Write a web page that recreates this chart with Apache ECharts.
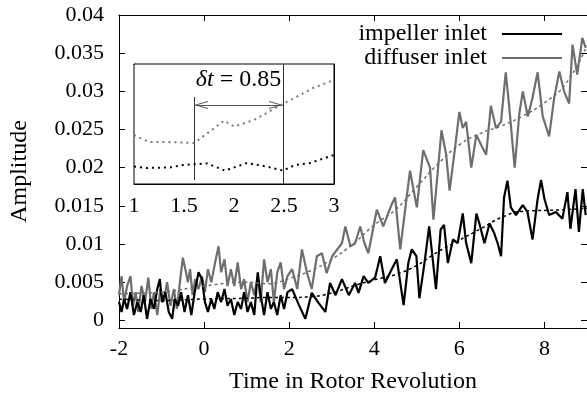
<!DOCTYPE html>
<html>
<head>
<meta charset="utf-8">
<script src="https://cdn.jsdelivr.net/npm/echarts@6/dist/echarts.min.js"></script>
<style>
  html, body { margin: 0; padding: 0; background: #fff; }
  #chart { width: 587px; height: 399px; }
</style>
</head>
<body>
<div id="chart"></div>
<script>
const FONT = "Liberation Serif";

// main plot: raw signals
const impellerX = [-2.0, -1.94, -1.88, -1.81, -1.73, -1.65, -1.57, -1.49, -1.42, -1.34,
  -1.26, -1.18, -1.10, -1.04, -0.99, -0.91, -0.83, -0.75, -0.69, -0.61,
  -0.54, -0.46, -0.38, -0.30, -0.22, -0.13, -0.05, 0.02, 0.09, 0.17,
  0.24, 0.32, 0.40, 0.48, 0.55, 0.63, 0.71, 0.79, 0.87, 0.94,
  1.02, 1.10, 1.18, 1.26, 1.33, 1.41, 1.49, 1.57, 1.64, 1.72,
  1.80, 1.88, 1.96,
  2.07, 2.23, 2.38, 2.53, 2.69, 2.85, 2.96, 3.09, 3.24, 3.4, 3.55, 3.63, 3.75, 3.86, 4.02, 4.14, 4.25, 4.41, 4.53, 4.69, 4.8, 4.88, 4.99,
  5.06, 5.18, 5.29, 5.45, 5.56, 5.64, 5.73, 5.85, 5.96, 6.08, 6.16, 6.28, 6.4, 6.47, 6.59, 6.71, 6.82, 6.9, 6.98,
  7.05, 7.13, 7.21, 7.33, 7.49, 7.6, 7.72, 7.84, 7.92, 8.0, 8.11, 8.27, 8.42, 8.54, 8.61, 8.73, 8.81, 8.9, 8.97];
const impellerY = [0.0024, 0.0011, 0.0028, 0.0015, 0.0037, 0.0007, 0.0024, 0.0011, 0.0033, 0.0002,
  0.0028, 0.0015, 0.0041, 0.0054, 0.0024, 0.0037, 0.0011, 0.0002, 0.0028, 0.0019,
  0.0037, 0.0011, 0.0033, 0.0007, 0.0037, 0.0063, 0.0054, 0.0024, 0.0011, 0.0028,
  0.0015, 0.0037, 0.0024, 0.0041, 0.0019, 0.0028, 0.0007, 0.0024, 0.0015, 0.0037,
  0.0011, 0.0024, 0.0007, 0.0063, 0.0033, 0.0007, 0.0037, 0.0015, 0.0024, 0.0007,
  0.0033, 0.0015, 0.0037,
  0.0041, 0.0020, 0.0002, 0.0036, 0.0023, 0.0011, 0.0049, 0.0033, 0.0054, 0.0033, 0.0049, 0.0036, 0.0058, 0.0049, 0.0056, 0.0084, 0.0049, 0.0067, 0.0080, 0.0020, 0.0075, 0.0093, 0.0084,
  0.0029, 0.0075, 0.0123, 0.0041, 0.0119, 0.0125, 0.0075, 0.0106, 0.0101, 0.0140, 0.0101, 0.0075, 0.0140, 0.0127, 0.0101, 0.0127, 0.0114, 0.0101, 0.0084,
  0.0161, 0.0183, 0.0148, 0.0138, 0.0151, 0.0142, 0.0106, 0.0159, 0.0184, 0.0159, 0.0138, 0.0142, 0.0133, 0.0168, 0.0120, 0.0172, 0.0116, 0.0172, 0.0138];

const diffuserX = [-2.0, -1.94, -1.88, -1.81, -1.73, -1.67, -1.61, -1.55, -1.47, -1.39,
  -1.31, -1.24, -1.18, -1.10, -1.03, -0.95, -0.87, -0.79, -0.71, -0.64,
  -0.56, -0.50, -0.44, -0.38, -0.33, -0.27, -0.21, -0.13, -0.05, 0.02,
  0.09, 0.17, 0.26, 0.34, 0.40, 0.48, 0.55, 0.63, 0.71, 0.79,
  0.87, 0.94, 1.02, 1.10, 1.18, 1.26, 1.33, 1.41, 1.49, 1.57,
  1.64, 1.72, 1.80, 1.88, 1.96,
  2.07, 2.19, 2.3, 2.42, 2.53, 2.65, 2.77, 2.88, 3.01, 3.13, 3.24, 3.32, 3.44, 3.55, 3.67, 3.77, 3.86,
  4.06, 4.21, 4.41, 4.49, 4.61, 4.84, 5.0, 5.15, 5.31, 5.39, 5.58, 5.69, 5.77, 5.89, 6.0, 6.08, 6.16, 6.28, 6.4, 6.51, 6.63, 6.74, 6.86, 6.98,
  7.09, 7.17, 7.3, 7.41, 7.49, 7.61, 7.72, 7.84, 7.96, 8.11, 8.23, 8.35, 8.46, 8.58, 8.66, 8.77, 8.89, 8.97];
const diffuserY = [0.0033, 0.0058, 0.0024, 0.0045, 0.0058, 0.0019, 0.0037, 0.0011, 0.0045, 0.0024,
  0.0056, 0.0015, 0.0037, 0.0007, 0.0041, 0.0024, 0.0050, 0.0019, 0.0041, 0.0015,
  0.0054, 0.0082, 0.0067, 0.0050, 0.0067, 0.0033, 0.0054, 0.0041, 0.0058, 0.0037,
  0.0067, 0.0050, 0.0076, 0.0097, 0.0063, 0.0080, 0.0045, 0.0067, 0.0045, 0.0076,
  0.0041, 0.0054, 0.0024, 0.0050, 0.0033, 0.0058, 0.0024, 0.0080, 0.0050, 0.0067,
  0.0024, 0.0063, 0.0076, 0.0041, 0.0058,
  0.0067, 0.0041, 0.0093, 0.0062, 0.0041, 0.0084, 0.0088, 0.0062, 0.0084, 0.0093, 0.0101, 0.0123, 0.0097, 0.0101, 0.0123, 0.0101, 0.0088,
  0.0145, 0.0123, 0.0152, 0.0161, 0.0093, 0.0196, 0.0148, 0.0223, 0.0200, 0.0132, 0.0249, 0.0217, 0.0170, 0.0222, 0.0273, 0.0252, 0.0260, 0.0200, 0.0243, 0.0230, 0.0217, 0.0281, 0.0252, 0.0260,
  0.0325, 0.0281, 0.0200, 0.0271, 0.0300, 0.0267, 0.0292, 0.0325, 0.0267, 0.0241, 0.0292, 0.0326, 0.0300, 0.0284, 0.0361, 0.0322, 0.0370, 0.0357];

// main plot: smoothed trends
const trendX = [-2, -1, 0, 1, 1.5, 2, 2.5, 3, 3.5, 4, 4.5, 5, 5.5, 6, 6.5, 7, 7.5, 8, 8.5, 9];
const impellerTrend = [0.0028, 0.0026, 0.0028, 0.0029, 0.0030, 0.0030, 0.0031, 0.0036, 0.0045, 0.0053, 0.0060, 0.0072, 0.0090, 0.0105, 0.0120, 0.0135, 0.0143, 0.0144, 0.0145, 0.0147];
const diffuserTrend = [0.0035, 0.0037, 0.0045, 0.0050, 0.0048, 0.0055, 0.0065, 0.0080, 0.0100, 0.0125, 0.0145, 0.0175, 0.0205, 0.0230, 0.0245, 0.0255, 0.0268, 0.0285, 0.0310, 0.0360];

// inset: zoom on trends (scaled units)
const insetGrayX = [1, 1.15, 1.3, 1.45, 1.6, 1.75, 1.9, 2.0, 2.2, 2.45, 2.63, 2.79, 3.0];
const insetGrayY = [2.45, 2.1, 2.1, 2.08, 2.05, 2.6, 3.17, 2.87, 3.2, 3.9, 4.37, 4.8, 5.2];
const insetBlackX = [1, 1.13, 1.36, 1.49, 1.73, 1.91, 2.13, 2.33, 2.49, 2.61, 2.76, 2.88, 3.0];
const insetBlackY = [0.87, 0.8, 0.83, 0.95, 1.03, 0.67, 1.05, 0.87, 0.67, 0.95, 1.05, 1.25, 1.45];

const yTicks = [0, 0.005, 0.01, 0.015, 0.02, 0.025, 0.03, 0.035, 0.04];
const xTicks = [-2, 0, 2, 4, 6, 8];
const insetXTicks = [1, 1.5, 2, 2.5, 3];
const insetYTicks = [0, 1, 2, 3, 4, 5, 6];
const shiftStart = 1.6, shiftEnd = 2.49;
const arrowInset = 0.07; // arrow symbols are centred on the end point

const zip = (xs, ys) => xs.map((x, i) => [x, ys[i]]);
const GRAY = "#6e6e6e";
// open arrow head, tip up (markLine turns it along the line)
const OPEN_ARROW = "path://M5,0 L10,10 L8.8,10 L5,2.4 L1.2,10 L0,10 Z";

const chart = echarts.init(document.getElementById("chart"));

const tickStyle = { inside: true, length: 6, lineStyle: { color: "#000" } };
const lineAxis = { onZero: false, lineStyle: { color: "#000", width: 1 } };
const tickFont = { fontFamily: FONT, fontSize: 22, color: "#000" };
const textFont = { fontFamily: FONT, fontSize: 24, color: "#000" };

chart.setOption({
  animation: false,
  grid: [
    { left: 117, top: 15, width: 471, height: 318 },
    { left: 134, top: 64, width: 200, height: 120, show: true, backgroundColor: "#fff", borderColor: "#000", borderWidth: 1, z: 5 },
  ],
  legend: {
    data: ["impeller inlet", "diffuser inlet"],
    orient: "vertical",
    align: "right",
    right: 25,
    top: 22,
    padding: 0,
    itemGap: 0,
    itemWidth: 60,
    itemHeight: 2,
    icon: "rect",
    textStyle: { ...textFont, lineHeight: 22, padding: [0, 10, 0, 0] },
  },
  xAxis: [
    {
      gridIndex: 0, type: "value", min: -2, max: 9,
      name: "Time in Rotor Revolution", nameLocation: "middle", nameGap: 42,
      nameTextStyle: textFont,
      axisLine: lineAxis,
      axisTick: { ...tickStyle, customValues: xTicks },
      axisLabel: { ...tickFont, margin: 10, customValues: xTicks },
      splitLine: { show: false },
    },
    {
      gridIndex: 0, type: "value", min: -2, max: 9, position: "top",
      axisLine: lineAxis,
      axisTick: { ...tickStyle, customValues: xTicks },
      axisLabel: { show: false },
      splitLine: { show: false },
    },
    {
      gridIndex: 1, type: "value", min: 1, max: 3,
      axisLine: lineAxis,
      axisTick: { ...tickStyle, customValues: insetXTicks },
      axisLabel: { ...tickFont, margin: 11, customValues: insetXTicks },
      splitLine: { show: false },
    },
    {
      gridIndex: 1, type: "value", min: 1, max: 3, position: "top",
      axisLine: lineAxis,
      axisTick: { ...tickStyle, customValues: insetXTicks },
      axisLabel: { show: false },
      splitLine: { show: false },
    },
  ],
  yAxis: [
    {
      gridIndex: 0, type: "value", min: -0.001, max: 0.04,
      name: "Amplitude", nameLocation: "middle", nameGap: 87, nameRotate: 90,
      nameTextStyle: textFont,
      axisLine: lineAxis,
      axisTick: { ...tickStyle, customValues: yTicks },
      axisLabel: { ...tickFont, margin: 15, customValues: yTicks },
      splitLine: { show: false },
    },
    {
      gridIndex: 0, type: "value", min: -0.001, max: 0.04, position: "right",
      axisLine: lineAxis,
      axisTick: { ...tickStyle, customValues: yTicks },
      axisLabel: { show: false },
      splitLine: { show: false },
    },
    {
      gridIndex: 1, type: "value", min: 0, max: 6,
      axisLine: lineAxis,
      axisTick: { ...tickStyle, customValues: insetYTicks },
      axisLabel: { show: false },
      splitLine: { show: false },
    },
    {
      gridIndex: 1, type: "value", min: 0, max: 6, position: "right",
      axisLine: lineAxis,
      axisTick: { ...tickStyle, customValues: insetYTicks },
      axisLabel: { show: false },
      splitLine: { show: false },
    },
  ],
  series: [
    {
      name: "diffuser inlet", type: "line", xAxisIndex: 0, yAxisIndex: 0,
      data: zip(diffuserX, diffuserY), showSymbol: false, color: GRAY,
      lineStyle: { width: 2.2, color: GRAY },
    },
    {
      name: "impeller inlet", type: "line", xAxisIndex: 0, yAxisIndex: 0,
      data: zip(impellerX, impellerY), showSymbol: false, color: "#000",
      lineStyle: { width: 2.2, color: "#000" },
    },
    {
      name: "diffuser trend", type: "line", xAxisIndex: 0, yAxisIndex: 0, smooth: true,
      data: zip(trendX, diffuserTrend), showSymbol: false,
      lineStyle: { width: 1.5, color: GRAY, type: [3, 3] }, z: 4,
    },
    {
      name: "impeller trend", type: "line", xAxisIndex: 0, yAxisIndex: 0, smooth: true,
      data: zip(trendX, impellerTrend), showSymbol: false,
      lineStyle: { width: 1.5, color: "#000", type: [3, 3] }, z: 4,
    },
    {
      name: "inset diffuser", type: "line", xAxisIndex: 2, yAxisIndex: 2, z: 6,
      data: zip(insetGrayX, insetGrayY), showSymbol: false,
      lineStyle: { width: 2, color: "#7a7a7a", type: [2, 4] },
      markLine: {
        silent: true, animation: false, symbol: "none",
        label: { show: false },
        lineStyle: { color: "#333", width: 1, type: "solid" },
        data: [
          [{ coord: [shiftStart, 0.2] }, { coord: [shiftStart, 4.35] }],
          [{ coord: [shiftEnd, 0] }, { coord: [shiftEnd, 6] }],
          [
            { coord: [shiftStart + arrowInset, 3.95], symbol: OPEN_ARROW, symbolSize: [8, 14], lineStyle: { color: "#555" }, itemStyle: { color: "#555" } },
            { coord: [shiftEnd - arrowInset, 3.95], symbol: OPEN_ARROW, symbolSize: [8, 14], itemStyle: { color: "#555" } },
          ],
          [{ coord: [shiftStart, 3.95], lineStyle: { color: "#555" } }, { coord: [shiftEnd, 3.95] }],
        ],
      },
      markPoint: {
        silent: true, animation: false, symbolSize: 0,
        label: {
          show: true, position: "inside", color: "#000", fontFamily: FONT, fontSize: 24,
          formatter: "{i|δt} = 0.85",
          rich: { i: { fontStyle: "italic", fontFamily: FONT, fontSize: 24 } },
        },
        data: [{ coord: [(shiftStart + shiftEnd) / 2, 5.2] }],
      },
    },
    {
      name: "inset impeller", type: "line", xAxisIndex: 2, yAxisIndex: 2, z: 6,
      data: zip(insetBlackX, insetBlackY), showSymbol: false,
      lineStyle: { width: 2, color: "#000", type: [2, 4] },
    },
  ],
});
</script>
</body>
</html>
